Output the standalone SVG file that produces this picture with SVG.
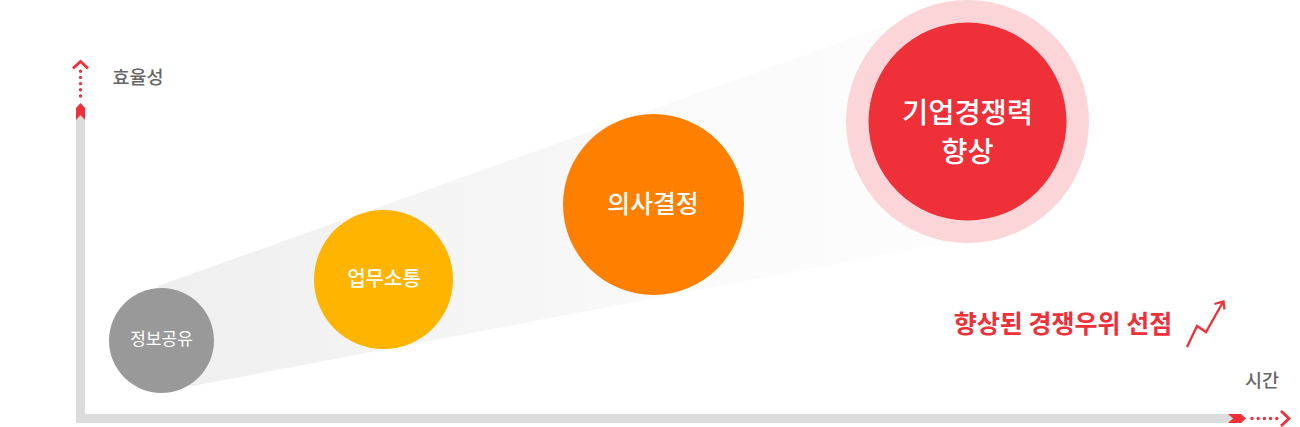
<svg xmlns="http://www.w3.org/2000/svg" width="1300" height="427" viewBox="0 0 1300 427">
<style>
text{font-family:"Noto Sans CJK KR","Noto Sans",sans-serif;text-anchor:middle}
.w{fill:#fff}
.g{fill:#666;font-size:18.500px;font-weight:500}
.red{fill:#ef3038}
.ln{fill:none;stroke:#ef3038;stroke-width:2.800}
.tr{fill:none;stroke:#ef3038;stroke-width:2.300}
.dot{fill:none;stroke:#ef3038;stroke-width:3.400;stroke-linecap:round;stroke-dasharray:0 6.200}
</style>
<defs><linearGradient id="band" x1="160" y1="0" x2="940" y2="0" gradientUnits="userSpaceOnUse"><stop offset="0" stop-color="#efefef"/><stop offset="0.4" stop-color="#f5f5f5"/><stop offset="0.75" stop-color="#fbfbfb"/><stop offset="1" stop-color="#fdfdfd"/></linearGradient></defs>
<rect width="1300" height="427" fill="#fff"/>
<polygon id="band-shape" points="158,286 880,28 945,243 190,386.500" fill="url(#band)"/>
<g id="connectors">
<g id="axis-y">
<path d="M76 423V115h9v308z" fill="#dcdcdc"/>
<path d="M76 120V108l4.500-5 4.500 5v12l-4.500-5z" class="red"/>
<path d="M80.500 96V71" class="dot"/>
<path d="M73 68.500l7.500-7 7.500 7" class="ln"/>
</g>
<g id="axis-x">
<path d="M76 414H1232v9H76z" fill="#dcdcdc"/>
<path d="M1228 414h13l5 4.500-5 4.500h-13l5-4.500z" class="red"/>
<path d="M1252 418.500H1278" class="dot"/>
<path d="M1281 411l8 7.500-8 7.500" class="ln"/>
</g>
<path id="trend" d="M1187 347l10-21 9 6 17-30M1214.500 304l9-2.500 1 8" class="tr"/>
</g>
<g id="node-info"><circle cx="161.500" cy="340.500" r="52.500" fill="#999"/><text x="161.500" y="345" class="w" font-size="17">정보공유</text></g>
<g id="node-work"><circle cx="383.500" cy="279.500" r="69.500" fill="#ffb400"/><text x="384" y="285.500" class="w" font-size="20" font-weight="500">업무소통</text></g>
<g id="node-decision"><circle cx="653.500" cy="204.500" r="90.500" fill="#ff7f00"/><text x="653" y="213" class="w" font-size="24.800" font-weight="500">의사결정</text></g>
<g id="node-competitive">
<circle cx="967.500" cy="121.500" r="121.500" fill="#fbd5d7"/>
<circle cx="967.500" cy="121.500" r="99" class="red"/>
<text class="w" font-size="28.500" font-weight="500"><tspan x="967.500" y="123">기업경쟁력</tspan><tspan x="967.500" y="162">향상</tspan></text>
</g>
<text x="138" y="84" class="g">효율성</text>
<text x="1262" y="387" class="g">시간</text>
<text x="1063" y="332.500" class="red" font-size="25" font-weight="700">향상된 경쟁우위 선점</text>
</svg>
